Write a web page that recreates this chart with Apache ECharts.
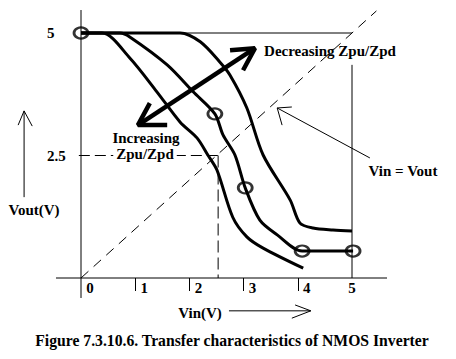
<!DOCTYPE html>
<html><head><meta charset="utf-8">
<script src="https://cdn.jsdelivr.net/npm/echarts@6/dist/echarts.min.js"></script>
<style>html,body{margin:0;padding:0;background:#fff}#c{width:456px;height:359px}</style>
</head><body><div id="c"></div>
<script>
// ---- data ----
const xTickLabels = [0, 1, 2, 3, 4, 5];
const xTicks = [1, 2, 3, 4];
const yTickLabels = [2.5, 5];
const curveLow = [[0,5],[0.39,5],[0.90,4.49],[1.40,3.80],[1.83,3.18],[2.14,2.86],[2.34,2.51],[2.51,2.20],[2.80,1.24],[3.06,0.84],[3.36,0.61],[4.10,0.20]];
const curveMid = [[0,5],[0.72,5],[0.90,4.92],[1.59,4.35],[2.07,3.80],[2.47,3.35],[2.62,2.92],[2.84,2.51],[3.03,1.84],[3.30,1.18],[3.62,0.88],[4.08,0.55],[5.02,0.55]];
const curveHigh = [[0,5],[1.83,5],[2.20,4.82],[2.56,4.41],[2.75,4.14],[3.06,3.47],[3.36,2.51],[3.86,1.59],[4.04,1.12],[4.28,1.02],[4.65,0.98],[5.0,0.96]];
const markers = [[0,5],[2.47,3.35],[3.03,1.84],[4.08,0.55],[5.02,0.55]];
const xAxisLine = [[-0.4613,0],[5.6458,0]];
const yAxisLine = [[0,-0.408],[0,5.469]];
const diagonal = [[0,0],[5.45,5.45]];
const topLine = [[0,5],[5,5]];
const rightLine = [[5,0],[5,4.35]];
const halfH = [[-0.04,2.5],[2.53,2.5]];
const halfV = [[2.53,2.5],[2.53,0]];
const bigShaft = [[1.05,3.12],[3.21,4.69]];
const bigHeadLow = [[1.27,3.57],[1.05,3.12],[1.59,3.12]];
const bigHeadHigh = [[2.75,4.65],[3.21,4.69],[2.99,4.24]];
const eqShaft = [[3.62,3.47],[5.33,2.45]];
const eqHead = [[3.89,3.49],[3.62,3.47],[3.71,3.12]];
const voutShaft = [[-1.05,1.65],[-1.05,3.41]];
const voutHead = [[-1.16,3.12],[-1.05,3.41],[-0.90,3.10]];
const vinShaft = [[2.73,-0.67],[4.24,-0.67]];
const vinHead = [[3.95,-0.55],[4.24,-0.67],[3.89,-0.82]];

const FONT = '"Liberation Serif", "Times New Roman", serif';
function ln(data, width, extra) {
  return Object.assign({
    type: 'line', data: data, symbol: 'none', showSymbol: false, clip: false, silent: true,
    lineStyle: { color: '#000', width: width }, z: 3
  }, extra || {});
}
const chart = echarts.init(document.getElementById('c'), null, { renderer: 'svg' });
chart.setOption({
  animation: false,
  backgroundColor: '#fff',
  grid: { left: 0, right: 0, top: 0, bottom: 0, containLabel: false },
  xAxis: {
    type: 'value', min: -1.4945, max: 6.9188, position: 'bottom', offset: -81,
    splitLine: { show: false },
    axisLine: { show: false, onZero: false },
    axisTick: { show: true, customValues: xTicks, length: 13, lineStyle: { color: '#000', width: 1 } },
    axisLabel: {
      customValues: xTickLabels, margin: 2, color: '#000',
      fontFamily: FONT, fontWeight: 'bold', fontSize: 15,
      formatter: function (v) { return v === 5 ? '{b|5}' : '{a|' + v + '}'; },
      rich: {
        a: { fontFamily: FONT, fontWeight: 'bold', fontSize: 15, color: '#000', padding: [0, 0, 0, 18] },
        b: { fontFamily: FONT, fontWeight: 'bold', fontSize: 15, color: '#000' }
      }
    }
  },
  yAxis: {
    type: 'value', min: -1.653, max: 5.6735, position: 'left', offset: -81,
    splitLine: { show: false },
    axisLine: { show: false, onZero: false },
    axisTick: { show: false },
    axisLabel: {
      customValues: yTickLabels, margin: 34, align: 'left', color: '#000',
      fontFamily: FONT, fontWeight: 'bold', fontSize: 15
    }
  },
  series: [
    ln(xAxisLine, 1),
    ln(yAxisLine, 1),
    ln(topLine, 1),
    ln(rightLine, 1),
    ln(diagonal, 1, { lineStyle: { color: '#000', width: 1, type: [10, 7] } }),
    ln(halfH, 1, { lineStyle: { color: '#000', width: 1, type: [11, 5] } }),
    ln(halfV, 1, { lineStyle: { color: '#000', width: 1, type: [12, 5] } }),
    ln(curveLow, 3, { smooth: 0.3 }),
    ln(curveMid, 3, { smooth: 0.3 }),
    ln(curveHigh, 3, { smooth: 0.3 }),
    ln(bigShaft, 4.5),
    ln(bigHeadLow, 4.5),
    ln(bigHeadHigh, 4.5),
    ln(eqShaft, 1),
    ln(eqHead, 1),
    ln(voutShaft, 1),
    ln(voutHead, 1),
    ln(vinShaft, 1),
    ln(vinHead, 1),
    {
      type: 'scatter', data: markers, symbol: 'circle', symbolSize: [14, 11], silent: true, z: 5,
      itemStyle: { color: 'rgba(0,0,0,0)', borderColor: '#000', borderWidth: 2.5 }
    }
  ],
  graphic: [
    { type: 'text', x: 34, y: 210, z: 100, style: { text: 'Vout(V)', font: 'bold 15px ' + FONT, fill: '#000', align: 'center', verticalAlign: 'middle' } },
    { type: 'text', x: 200, y: 313, z: 100, style: { text: 'Vin(V)', font: 'bold 15px ' + FONT, fill: '#000', align: 'center', verticalAlign: 'middle' } },
    { type: 'text', x: 146, y: 138, z: 100, style: { text: 'Increasing', font: 'bold 15px ' + FONT, fill: '#000', align: 'center', verticalAlign: 'middle' } },
    { type: 'text', x: 145, y: 154, z: 100, style: { text: 'Zpu/Zpd', font: 'bold 15px ' + FONT, fill: '#000', align: 'center', verticalAlign: 'middle', backgroundColor: '#fff', padding: [0, 3] } },
    { type: 'text', x: 330, y: 51, z: 100, style: { text: 'Decreasing Zpu/Zpd', font: 'bold 15px ' + FONT, fill: '#000', align: 'center', verticalAlign: 'middle' } },
    { type: 'text', x: 403, y: 171, z: 100, style: { text: 'Vin = Vout', font: 'bold 15px ' + FONT, fill: '#000', align: 'center', verticalAlign: 'middle' } },
    { type: 'text', x: 232, y: 340, z: 100, style: { text: 'Figure 7.3.10.6. Transfer characteristics of NMOS Inverter', font: 'bold 15.7px ' + FONT, fill: '#000', align: 'center', verticalAlign: 'middle' } }
  ]
});
</script>
</body></html>
